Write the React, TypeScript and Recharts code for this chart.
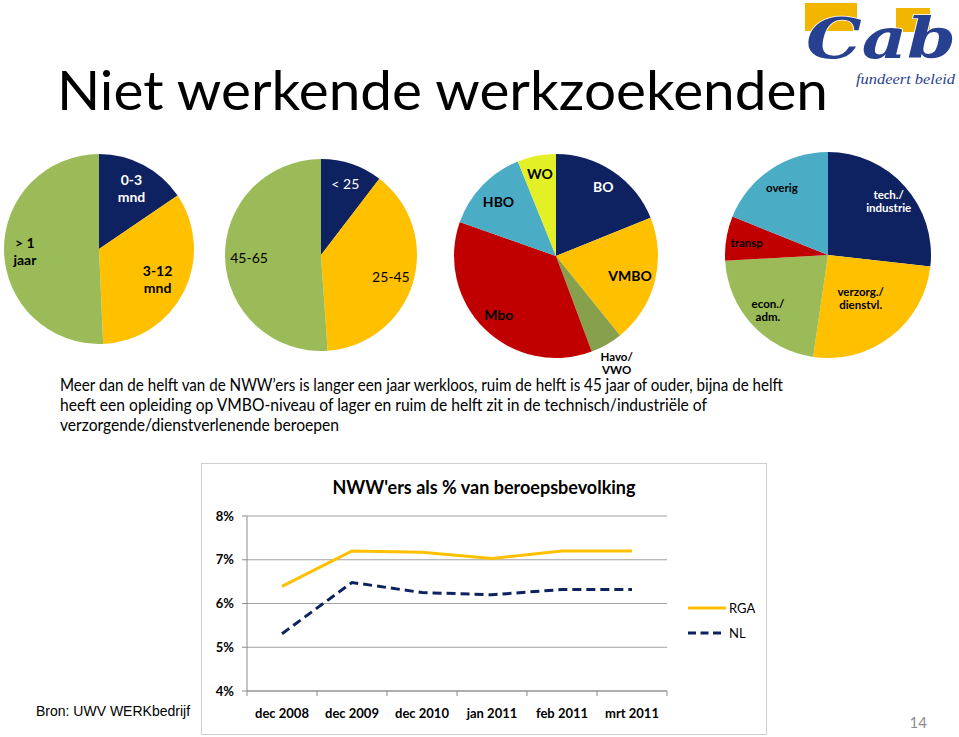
import React from 'react';
import { PieChart, Pie, Cell, LineChart, Line, XAxis, YAxis, CartesianGrid, Legend } from 'recharts';

// ---------- data ----------
const durationCats = ['0-3\nmnd', '3-12\nmnd', '> 1\njaar'];
const durationVals = [15.5, 33.8, 50.7];

const ageCats = ['< 25', '25-45', '45-65'];
const ageVals = [10.4, 38.5, 51.1];

const eduCats = ['BO', 'VMBO', 'Havo/\nVWO', 'Mbo', 'HBO', 'WO'];
const eduVals = [18.9, 20.3, 5.1, 36.1, 13.5, 6.1];

const jobCats = ['tech./\nindustrie', 'verzorg./\ndienstvl.', 'econ./\nadm.', 'transp', 'overig'];
const jobVals = [26.8, 25.5, 21.8, 7.0, 18.9];

const months = ['dec 2008', 'dec 2009', 'dec 2010', 'jan 2011', 'feb 2011', 'mrt 2011'];
const rgaVals = [6.39, 7.2, 7.17, 7.03, 7.2, 7.2];
const nlVals = [5.31, 6.48, 6.25, 6.2, 6.32, 6.32];
const yTicks = [4, 5, 6, 7, 8];

// ---------- styles ----------
const FONT = "Lato, 'Open Sans', sans-serif";
const NAVY = '#0e2160';
const YELLOW = '#FFC000';
const GREEN = '#9BBB59';
const OLIVE = '#87a04c';
const RED = '#C00000';
const TEAL = '#4BACC6';
const LIME = '#E2F025';
const LOGO_BLUE = '#27408f';
const LOGO_YELLOW = '#f3b600';

const RAD = Math.PI / 180;
const PIE_TOP = 140;

type PieCfg = {
  cats: string[];
  vals: number[];
  colors: string[];
  cx: number;
  cy: number;
  r: number;
  size: number;
  weight: number;
  lineGap: number;
  white: number[];
  rf: number[];
  sizes?: Record<number, number>;
};

const pies: PieCfg[] = [
  { cats: durationCats, vals: durationVals, colors: [NAVY, YELLOW, GREEN], cx: 99, cy: 249, r: 95, size: 14, weight: 700, lineGap: 17, white: [0], rf: [0.73, 0.69, 0.78] },
  { cats: ageCats, vals: ageVals, colors: [NAVY, YELLOW, GREEN], cx: 321, cy: 255, r: 96, size: 14, weight: 400, lineGap: 16, white: [0], rf: [0.79, 0.76, 0.75] },
  { cats: eduCats, vals: eduVals, colors: [NAVY, YELLOW, OLIVE, RED, TEAL, LIME], cx: 556, cy: 256, r: 102, size: 14, weight: 700, lineGap: 13, white: [0], rf: [0.83, 0.75, 1.2, 0.8, 0.78, 0.83], sizes: { 2: 11.5 } },
  { cats: jobCats, vals: jobVals, colors: [NAVY, YELLOW, GREEN, RED, TEAL], cx: 828, cy: 255, r: 103, size: 11.5, weight: 700, lineGap: 13, white: [0], rf: [0.79, 0.52, 0.79, 0.8, 0.8] },
];

const makeLabel = (cfg: PieCfg) => (props: any) => {
  const { cx, cy, midAngle, outerRadius, index } = props;
  const rr = outerRadius * cfg.rf[index];
  const x = cx + rr * Math.cos(-midAngle * RAD);
  const y = cy + rr * Math.sin(-midAngle * RAD);
  const lines = cfg.cats[index].split('\n');
  const fs = (cfg.sizes && cfg.sizes[index]) || cfg.size;
  const fill = cfg.white.includes(index) ? '#fff' : '#000';
  return (
    <text
      x={x}
      y={y}
      textAnchor="middle"
      dominantBaseline="central"
      fontFamily={FONT}
      fontSize={fs}
      fontWeight={cfg.weight}
      fill={fill}
    >
      {lines.map((l, i) => (
        <tspan key={i} x={x} dy={i === 0 ? -((lines.length - 1) * cfg.lineGap) / 2 : cfg.lineGap}>
          {l}
        </tspan>
      ))}
    </text>
  );
};

// ---------- line chart layout ----------
const LC_W = 566;
const LC_H = 272;
const LC_TOP = 53;
const LC_RIGHT = 100;
const Y_W = 46;
const X_H = 44;
const PLOT_BOTTOM = LC_H - X_H;
const BAND = (LC_W - Y_W - LC_RIGHT) / months.length;

const lineData = months.map((m, i) => ({ month: m, RGA: rgaVals[i], NL: nlVals[i] }));

const XTick = (props: any) => {
  const { x, index } = props;
  return (
    <g>
      <line x1={x - BAND / 2} x2={x - BAND / 2} y1={PLOT_BOTTOM} y2={PLOT_BOTTOM + 5} stroke="#8c8c8c" />
      {index === months.length - 1 && (
        <line x1={x + BAND / 2} x2={x + BAND / 2} y1={PLOT_BOTTOM} y2={PLOT_BOTTOM + 5} stroke="#8c8c8c" />
      )}
      <text x={x} y={PLOT_BOTTOM + 27} textAnchor="middle" fontFamily={FONT} fontSize={13} fontWeight={700} fill="#000">
        {months[index]}
      </text>
    </g>
  );
};

const legendItems = [
  { name: 'RGA', color: YELLOW, dash: undefined as string | undefined, len: 38 },
  { name: 'NL', color: NAVY, dash: '8 4.5', len: 33 },
];

const LegendContent = () => (
  <div style={{ fontFamily: FONT, fontSize: 13, color: '#000' }}>
    {legendItems.map((it) => (
      <div key={it.name} style={{ display: 'flex', alignItems: 'center', height: 25 }}>
        <svg width={41} height={20} style={{ display: 'block' }}>
          <line x1={0} x2={it.len} y1={10} y2={10} stroke={it.color} strokeWidth={3} strokeDasharray={it.dash} />
        </svg>
        <span>{it.name}</span>
      </div>
    ))}
  </div>
);

export default function App() {
  return (
    <div
      style={{
        position: 'absolute',
        left: 0,
        top: 0,
        width: 959,
        height: 737,
        background: '#fff',
        overflow: 'hidden',
        fontFamily: FONT,
      }}
    >
      {/* Pies */}
      <div style={{ position: 'absolute', left: 0, top: PIE_TOP }}>
        <PieChart width={959} height={250} margin={{ top: 0, right: 0, bottom: 0, left: 0 }}>
          {pies.map((cfg, pi) => (
            <Pie
              key={pi}
              data={cfg.cats.map((c, i) => ({ name: c, value: cfg.vals[i] }))}
              dataKey="value"
              nameKey="name"
              cx={cfg.cx}
              cy={cfg.cy - PIE_TOP}
              outerRadius={cfg.r}
              startAngle={90}
              endAngle={-270}
              stroke="none"
              labelLine={false}
              label={makeLabel(cfg)}
              isAnimationActive={false}
            >
              {cfg.cats.map((c, i) => (
                <Cell key={c} fill={cfg.colors[i]} />
              ))}
            </Pie>
          ))}
        </PieChart>
      </div>

      {/* Line chart box */}
      <div
        style={{
          position: 'absolute',
          left: 201,
          top: 463,
          width: LC_W,
          height: LC_H,
          boxSizing: 'border-box',
          border: '1.5px solid #cfcfcf',
        }}
      />
      <div style={{ position: 'absolute', left: 201, top: 463 }}>
        <LineChart width={LC_W} height={LC_H} data={lineData} margin={{ top: LC_TOP, right: LC_RIGHT, left: 0, bottom: 0 }}>
          <CartesianGrid vertical={false} stroke="#a0a0a0" />
          <XAxis
            dataKey="month"
            height={X_H}
            interval={0}
            padding={{ left: BAND / 2, right: BAND / 2 }}
            axisLine={{ stroke: '#8c8c8c' }}
            tickLine={false}
            tick={<XTick />}
          />
          <YAxis
            width={Y_W}
            domain={[4, 8]}
            ticks={yTicks}
            tickFormatter={(v: number) => `${v}%`}
            axisLine={{ stroke: '#8c8c8c' }}
            tickLine={{ stroke: '#8c8c8c' }}
            tickSize={5}
            tickMargin={8}
            tick={{ fill: '#000', fontWeight: 700, fontSize: 13, fontFamily: FONT }}
          />
          <Line type="linear" dataKey="RGA" stroke={YELLOW} strokeWidth={3} dot={false} isAnimationActive={false} />
          <Line type="linear" dataKey="NL" stroke={NAVY} strokeWidth={3} strokeDasharray="9 5" dot={false} isAnimationActive={false} />
          <Legend
            layout="vertical"
            verticalAlign="middle"
            align="center"
            wrapperStyle={{ left: 487, top: 132, width: 75 }}
            content={<LegendContent />}
          />
        </LineChart>
      </div>
      <div
        style={{
          position: 'absolute',
          left: 201,
          width: LC_W,
          top: 476,
          textAlign: 'center',
          fontFamily: FONT,
          fontWeight: 700,
          fontSize: 18,
          color: '#000',
        }}
      >
        NWW'ers als % van beroepsbevolking
      </div>

      {/* Slide text and logo */}
      <svg width={959} height={737} style={{ position: 'absolute', left: 0, top: 0, pointerEvents: 'none' }}>
        <text x={57} y={110} fontFamily={FONT} fontSize={54} fill="#000" textLength={771} lengthAdjust="spacingAndGlyphs">
          Niet werkende werkzoekenden
        </text>
        <g fontFamily={FONT} fontSize={16.5} fill="#000">
          <text x={60} y={391} textLength={723} lengthAdjust="spacingAndGlyphs">
            Meer dan de helft van de NWW’ers is langer een jaar werkloos, ruim de helft is 45 jaar of ouder, bijna de helft
          </text>
          <text x={60} y={411} textLength={647} lengthAdjust="spacingAndGlyphs">
            heeft een opleiding op VMBO-niveau of lager en ruim de helft zit in de technisch/industriële of
          </text>
          <text x={60} y={431} textLength={279} lengthAdjust="spacingAndGlyphs">
            verzorgende/dienstverlenende beroepen
          </text>
        </g>
        <text x={36} y={716} fontFamily="'Liberation Sans', Arial, sans-serif" fontSize={14} fill="#000">
          Bron: UWV WERKbedrijf
        </text>
        <text x={927} y={728} textAnchor="end" fontFamily={FONT} fontSize={15} fill="#8c8c8c">
          14
        </text>
        {/* logo */}
        <rect x={805} y={3} width={52} height={28} fill={LOGO_YELLOW} />
        <rect x={896} y={8} width={34} height={24} fill={LOGO_YELLOW} />
        <text
          x={806}
          y={58}
          fontFamily="'DejaVu Serif', 'Liberation Serif', serif"
          fontStyle="italic"
          fontWeight={700}
          fontSize={56}
          fill={LOGO_BLUE}
          stroke="#fff"
          strokeWidth={1.5}
          paintOrder="stroke"
          textLength={150}
          lengthAdjust="spacingAndGlyphs"
        >
          Cab
        </text>
        <text x={856} y={84} fontFamily="'Liberation Serif', serif" fontStyle="italic" fontSize={14} fill={LOGO_BLUE} textLength={99} lengthAdjust="spacingAndGlyphs">
          fundeert beleid
        </text>
      </svg>
    </div>
  );
}
